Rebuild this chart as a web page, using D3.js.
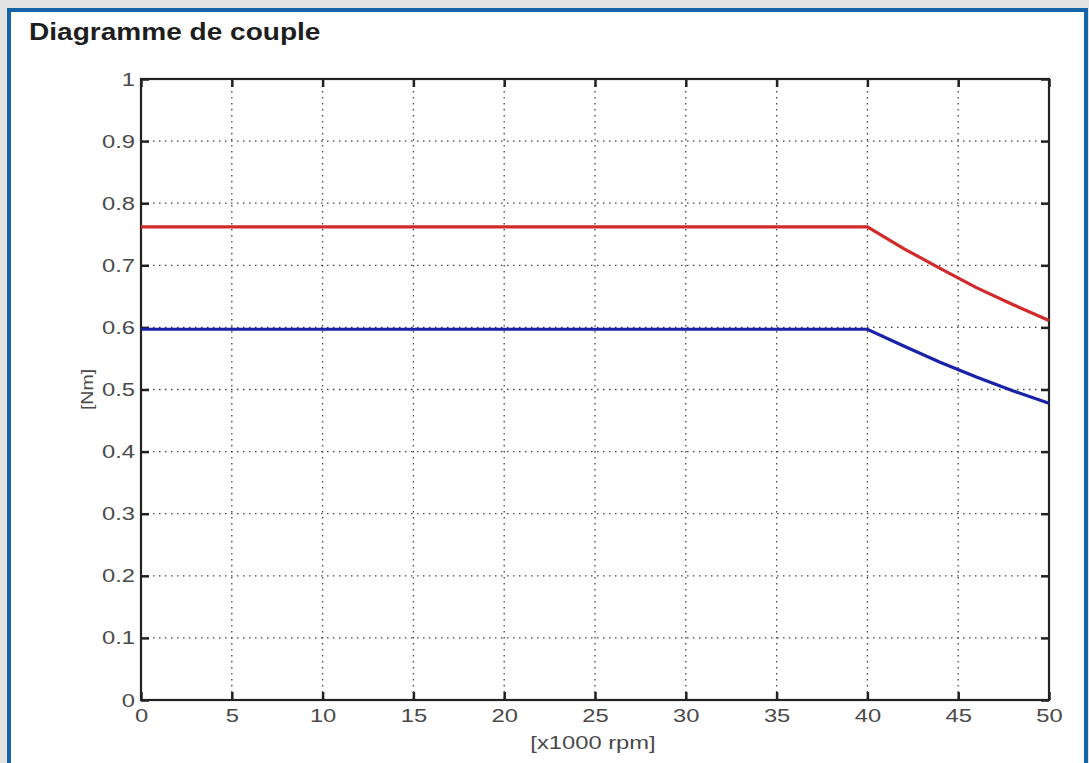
<!DOCTYPE html>
<html><head><meta charset="utf-8">
<script src="https://cdn.jsdelivr.net/npm/d3@7"></script>
<style>
html,body{margin:0;padding:0;background:#e2e2e2;}
svg{display:block;}
</style></head>
<body>
<svg id="c" width="1089" height="763"></svg>
<script>
const rpm      = [0, 40, 42, 44, 46, 48, 50];
const torqueHi = [0.762, 0.762, 0.727, 0.695, 0.664, 0.637, 0.611];
const torqueLo = [0.597, 0.597, 0.570, 0.544, 0.520, 0.498, 0.478];
const xTicks = [0, 5, 10, 15, 20, 25, 30, 35, 40, 45, 50];
const yTicks = [0, 0.1, 0.2, 0.3, 0.4, 0.5, 0.6, 0.7, 0.8, 0.9, 1];
const title = "Diagramme de couple";
const xLabel = "[x1000 rpm]";
const yLabel = "[Nm]";

const svg = d3.select("#c");
const W = 1089, H = 763;
const SX = 1.25; // horizontal stretch of the original picture's text
// frame
svg.append("rect").attr("x",0).attr("y",0).attr("width",W).attr("height",H).attr("fill","#e3e3e3");
svg.append("rect").attr("x",9).attr("y",10).attr("width",1077).attr("height",H).attr("fill","#fff")
  .attr("stroke","#1565a6").attr("stroke-width",4);

svg.append("text").attr("transform","translate(29,40) scale(1.22,1)").text(title)
  .attr("font-family","Liberation Sans, Arial, sans-serif").attr("font-weight","bold")
  .attr("font-size",23).attr("fill","#1e1e1e");

const L=141, R=1049, T=79, B=700;
const x = d3.scaleLinear().domain([0,50]).range([L,R]);
const y = d3.scaleLinear().domain([0,1]).range([B,T]);
const g = svg.append("g");
const font = "Liberation Sans, Arial, sans-serif";

// grid
g.selectAll(".gx").data(xTicks.filter(d=>d>0&&d<50)).join("line")
  .attr("x1",d=>x(d)).attr("x2",d=>x(d)).attr("y1",T).attr("y2",B)
  .attr("stroke","#444").attr("stroke-width",1.3).attr("stroke-dasharray","1.5,4.5");
g.selectAll(".gy").data(yTicks.filter(d=>d>0&&d<1)).join("line")
  .attr("y1",d=>y(d)).attr("y2",d=>y(d)).attr("x1",L).attr("x2",R)
  .attr("stroke","#444").attr("stroke-width",1.3).attr("stroke-dasharray","1.5,4.5");

// axes (ticks inward on all sides)
const axStyle = sel => { sel.select(".domain").remove(); sel.selectAll(".tick line").attr("stroke","#222").attr("stroke-width",2.5); };
const xb = svg.append("g").attr("transform",`translate(0,${B})`)
  .call(d3.axisBottom(x).tickValues(xTicks).tickSizeInner(-8).tickSizeOuter(0).tickPadding(9).tickFormat(d3.format("d")));
axStyle(xb);
xb.selectAll("text").attr("font-family",font).attr("font-size",19).attr("fill","#4a4a4a")
  .attr("transform",`scale(${SX},1)`);
const xt = svg.append("g").attr("transform",`translate(0,${T})`)
  .call(d3.axisTop(x).tickValues(xTicks).tickSizeInner(-8).tickSizeOuter(0).tickFormat(""));
axStyle(xt);
const yl = svg.append("g").attr("transform",`translate(${L},0)`)
  .call(d3.axisLeft(y).tickValues(yTicks).tickSizeInner(-8).tickSizeOuter(0).tickFormat(d=>d===0||d===1?String(d):d.toFixed(1)));
axStyle(yl);
yl.selectAll("text").attr("font-family",font).attr("font-size",19).attr("fill","#4a4a4a")
  .attr("x",-6/SX).attr("transform",`scale(${SX},1)`);
const yr = svg.append("g").attr("transform",`translate(${R},0)`)
  .call(d3.axisRight(y).tickValues(yTicks).tickSizeInner(-8).tickSizeOuter(0).tickFormat(""));
axStyle(yr);

// box
svg.append("rect").attr("x",L).attr("y",T).attr("width",R-L).attr("height",B-T)
  .attr("fill","none").attr("stroke","#222").attr("stroke-width",2.2);

// lines
const line = d3.line().x(d=>x(d[0])).y(d=>y(d[1]));
svg.append("path").datum(rpm.map((r,i)=>[r,torqueHi[i]])).attr("d",line)
  .attr("fill","none").attr("stroke","#d22a2a").attr("stroke-width",3.2);
svg.append("path").datum(rpm.map((r,i)=>[r,torqueLo[i]])).attr("d",line)
  .attr("fill","none").attr("stroke","#1a22a8").attr("stroke-width",3.2);

// labels
svg.append("text").attr("transform",`translate(${(L+R)/2 - 2},749) scale(${SX},1)`).attr("text-anchor","middle").text(xLabel)
  .attr("font-family",font).attr("font-size",19).attr("fill","#4a4a4a");
svg.append("text").attr("transform",`translate(93,${(T+B)/2}) rotate(-90) scale(1.15,1)`).attr("text-anchor","middle").text(yLabel)
  .attr("font-family",font).attr("font-size",17).attr("fill","#4a4a4a");
</script>
</body></html>
